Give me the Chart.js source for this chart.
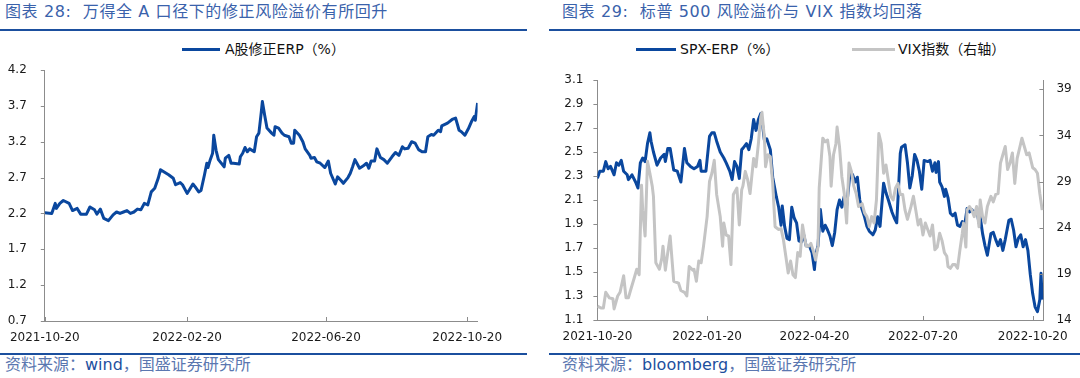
<!DOCTYPE html>
<html>
<head>
<meta charset="utf-8">
<script src="https://cdn.jsdelivr.net/npm/chart.js@4.4.1/dist/chart.umd.min.js"></script>
<style>
  body { margin: 0; width: 1080px; height: 378px; background: #fff; position: relative; overflow: hidden;
         font-family: "DejaVu Sans", "Noto Sans CJK SC", sans-serif; }
  .title { position: absolute; top: 4px; font-size: 16px; line-height: 16px; color: #3a62ab; white-space: nowrap; letter-spacing: 0.6px; }
  .rule { position: absolute; height: 2px; background: #1b4f9e; }
  .legend { position: absolute; top: 42px; font-size: 14px; line-height: 14px; color: #111; white-space: nowrap; }
  .swatch { position: absolute; top: 48px; height: 3px; }
  .source { position: absolute; top: 357px; font-size: 16px; line-height: 16px; color: #5b77b0; white-space: nowrap; }
  .source b { font-weight: normal; color: #1d4f9e; }
  canvas { position: absolute; top: 60px; }
</style>
</head>
<body>
<div class="title" style="left:5px">图表 28:&nbsp; 万得全 A 口径下的修正风险溢价有所回升</div>
<div class="rule" style="left:0;top:29px;width:527px"></div>
<div class="swatch" style="left:182px;width:38px;background:#0a479e"></div>
<div class="legend" style="left:225px">A股修正ERP（%）</div>

<div class="title" style="left:562px">图表 29:&nbsp; 标普 500 风险溢价与 VIX 指数均回落</div>
<div class="rule" style="left:549px;top:29px;width:531px"></div>
<div class="swatch" style="left:636px;width:40px;background:#0a479e"></div>
<div class="legend" style="left:680px">SPX-ERP（%）</div>
<div class="swatch" style="left:852px;width:43px;background:#c4c4c4"></div>
<div class="legend" style="left:898px">VIX指数（右轴）</div>

<canvas id="chartA" width="540" height="295" style="left:0"></canvas>
<canvas id="chartB" width="540" height="295" style="left:540px"></canvas>

<div class="rule" style="left:0;top:353px;width:527px"></div>
<div class="rule" style="left:549px;top:353px;width:531px"></div>
<div class="source" style="left:5px">资料来源：<b>wind</b>，国盛证券研究所</div>
<div class="source" style="left:562px">资料来源：<b>bloomberg</b>，国盛证券研究所</div>

<script>
// Left chart: days since 2021-10-20
const erpDays = [0, 6, 9, 10, 13, 16, 21, 24, 28, 31, 36, 39, 43, 45, 48, 51, 55, 59, 62, 65,
  68, 71, 74, 77, 80, 83, 86, 89, 92, 95, 98, 100, 107, 111, 113, 117, 119, 123, 125, 128,
  130, 133, 135, 138, 140, 141, 143, 145, 146, 148, 150, 155, 156, 159, 161, 163, 168, 169, 171, 173,
  175, 177, 181, 183, 185, 187, 188, 190, 192, 196, 198, 199, 202, 205, 207, 211, 213, 215, 216, 220,
  223, 225, 229, 230, 233, 235, 238, 242, 245, 247, 251, 253, 256, 258, 262, 264, 266, 268, 272, 275,
  278, 280, 282, 285, 287, 290, 293, 296, 300, 303, 306, 309, 311, 314, 317, 320, 323, 326, 329, 331,
  334, 336, 340, 342, 343, 348, 352, 355, 358, 360, 363, 366, 369, 371, 372, 374];
const erpValues = [2.21, 2.2, 2.34, 2.27, 2.34, 2.38, 2.34, 2.24, 2.27, 2.19, 2.19, 2.29, 2.25, 2.19, 2.26, 2.13, 2.1, 2.18, 2.22, 2.2,
  2.22, 2.24, 2.2, 2.22, 2.26, 2.25, 2.34, 2.32, 2.5, 2.55, 2.69, 2.81, 2.74, 2.69, 2.6, 2.63, 2.6, 2.48, 2.53, 2.61,
  2.57, 2.5, 2.52, 2.74, 2.9, 2.84, 2.95, 3.04, 3.29, 3.08, 2.95, 2.85, 2.97, 3.01, 2.9, 2.9, 2.89, 2.99, 3.04, 3.12,
  3.06, 3.1, 3.06, 3.27, 3.32, 3.6, 3.76, 3.57, 3.39, 3.32, 3.29, 3.41, 3.39, 3.32, 3.29, 3.27, 3.18, 3.18, 3.36, 3.29,
  3.2, 3.1, 3.01, 2.97, 2.98, 2.92, 2.9, 2.84, 2.93, 2.76, 2.61, 2.71, 2.66, 2.62, 2.7, 2.76, 2.85, 2.95, 2.83, 2.86,
  2.9, 2.83, 2.93, 2.93, 3.1, 2.98, 2.95, 2.9, 2.99, 3.05, 3.01, 3.13, 3.1, 3.11, 3.2, 3.18, 3.09, 3.06, 3.06, 3.27,
  3.3, 3.29, 3.36, 3.34, 3.42, 3.46, 3.51, 3.53, 3.36, 3.34, 3.29, 3.38, 3.49, 3.55, 3.5, 3.74];
const aTickDays = [0, 123, 243, 365];
const aTickLabels = ['2021-10-20', '2022-02-20', '2022-06-20', '2022-10-20'];
const aYTicks = [0.7, 1.2, 1.7, 2.2, 2.7, 3.2, 3.7, 4.2];

// Right chart: days since 2021-10-20
const spxDays = [0, 2, 5, 7, 9, 11, 14, 16, 18, 20, 22, 25, 26, 29, 32, 34, 36, 38, 40, 42,
  44, 45, 47, 50, 53, 56, 57, 59, 61, 64, 67, 70, 73, 75, 78, 81, 84, 86, 87, 91,
  94, 96, 98, 100, 103, 106, 108, 111, 113, 115, 117, 119, 121, 122, 125, 127, 129, 131, 133, 135,
  137, 138, 140, 142, 145, 147, 150, 152, 154, 155, 157, 159, 161, 163, 165, 167, 169, 171, 173, 175,
  178, 180, 182, 183, 185, 187, 189, 191, 193, 195, 197, 199, 201, 203, 205, 207, 209, 212, 214, 216,
  218, 220, 222, 224, 226, 228, 231, 233, 235, 237, 240, 242, 244, 247, 249, 251, 252, 254, 255, 258,
  260, 262, 264, 266, 268, 270, 272, 274, 277, 279, 281, 283, 284, 286, 287, 289, 291, 292, 294, 296,
  298, 300, 302, 304, 306, 308, 310, 312, 314, 316, 318, 320, 321, 323, 325, 327, 330, 332, 334, 336,
  338, 340, 342, 345, 347, 349, 351, 353, 355, 357, 359, 361, 363, 365, 367, 369, 371, 372, 373];
const spxValues = [2.28, 2.34, 2.34, 2.42, 2.36, 2.38, 2.31, 2.41, 2.39, 2.43, 2.34, 2.31, 2.27, 2.31, 2.25, 2.2, 2.41, 2.45, 2.42, 2.57,
  2.66, 2.59, 2.5, 2.39, 2.45, 2.48, 2.42, 2.53, 2.53, 2.35, 2.34, 2.25, 2.53, 2.41, 2.38, 2.36, 2.38, 2.43, 2.34, 2.34,
  2.63, 2.66, 2.66, 2.59, 2.5, 2.45, 2.41, 2.34, 2.27, 2.42, 2.38, 2.28, 2.52, 2.53, 2.57, 2.52, 2.61, 2.77, 2.68, 2.77,
  2.82, 2.77, 2.6, 2.61, 2.52, 2.29, 2.13, 2.04, 1.89, 2.05, 1.88, 1.78, 1.77, 2.04, 1.95, 1.91, 1.76, 1.75, 1.81, 1.72,
  1.71, 1.66, 1.52, 1.64, 1.72, 2.02, 1.84, 1.89, 1.85, 1.8, 1.72, 1.83, 2.02, 2.1, 2.04, 2.13, 2.05, 2.34, 2.31, 2.25,
  2.29, 2.1, 2.02, 1.96, 1.88, 1.84, 1.81, 1.85, 1.96, 1.88, 2.24, 2.16, 2.1, 2.0, 1.95, 1.91, 2.1, 2.49, 2.54, 2.56,
  2.41, 2.2, 2.3, 2.48, 2.43, 2.34, 2.19, 2.43, 2.42, 2.43, 2.34, 2.41, 2.33, 2.42, 2.25, 2.21, 2.13, 2.19, 2.12, 1.99,
  1.97, 1.99, 1.89, 1.88, 1.92, 1.89, 2.03, 2.0, 2.02, 1.99, 2.02, 1.91, 1.96, 1.82, 1.72, 1.64, 1.82, 1.83, 1.77, 1.72,
  1.77, 1.68, 1.77, 1.93, 1.94, 1.85, 1.71, 1.78, 1.81, 1.71, 1.77, 1.68, 1.48, 1.32, 1.21, 1.17, 1.27, 1.49, 1.27];
const vixDays = [0, 3, 5, 7, 10, 13, 14, 17, 19, 22, 24, 26, 28, 31, 33, 35, 37, 38, 40, 42,
  44, 46, 47, 49, 52, 54, 55, 57, 59, 61, 64, 68, 70, 73, 75, 77, 80, 81, 83, 85,
  87, 89, 92, 94, 96, 98, 100, 103, 105, 106, 108, 110, 112, 114, 117, 119, 121, 122, 124, 126,
  128, 131, 133, 135, 137, 138, 140, 141, 143, 145, 147, 149, 152, 154, 156, 158, 160, 162, 164, 166,
  168, 170, 172, 175, 177, 179, 181, 183, 185, 186, 189, 191, 193, 195, 196, 198, 200, 201, 203, 205,
  207, 209, 211, 213, 215, 217, 219, 222, 224, 226, 228, 230, 232, 234, 236, 238, 240, 242, 244, 246,
  248, 250, 252, 254, 256, 258, 260, 263, 265, 267, 269, 271, 273, 275, 277, 279, 281, 283, 285, 287,
  289, 291, 293, 294, 296, 298, 300, 302, 304, 306, 307, 309, 310, 312, 314, 316, 318, 320, 321, 323,
  325, 327, 330, 332, 334, 336, 338, 340, 342, 344, 346, 348, 350, 352, 354, 356, 358, 360, 362, 365,
  367, 369, 371, 373];
const vixValues = [15.5, 15.3, 15.3, 17.0, 16.4, 16.3, 15.2, 16.6, 17.0, 18.8, 16.4, 16.4, 17.3, 18.6, 19.5, 18.9, 28.6, 25.9, 23.1, 31.2,
  29.9, 28.5, 27.4, 20.2, 19.5, 20.7, 22.0, 19.4, 21.3, 23.1, 18.2, 18.0, 17.2, 17.0, 16.6, 19.8, 19.4, 19.5, 18.2, 20.4,
  20.2, 22.0, 25.2, 29.0, 29.9, 31.3, 27.6, 25.2, 22.0, 24.5, 23.2, 23.1, 20.0, 27.6, 28.3, 24.3, 28.1, 28.5, 30.1, 29.2,
  27.7, 31.5, 30.6, 33.1, 36.0, 36.5, 33.8, 30.6, 31.9, 31.7, 28.8, 24.1, 23.8, 23.9, 22.7, 20.9, 19.1, 20.4, 18.9, 18.6,
  21.3, 20.9, 24.3, 22.0, 22.0, 22.3, 21.5, 20.5, 22.0, 28.3, 33.7, 33.3, 33.5, 31.7, 28.5, 31.9, 33.1, 34.9, 32.8, 29.5,
  27.7, 24.5, 31.0, 30.1, 28.5, 27.7, 26.3, 26.6, 25.6, 25.2, 24.1, 25.2, 24.5, 27.0, 34.2, 33.1, 29.9, 30.8, 29.1, 27.4,
  27.0, 28.3, 28.8, 27.6, 27.6, 25.9, 24.9, 26.3, 27.4, 25.9, 24.3, 24.9, 23.2, 24.5, 23.8, 23.1, 24.3, 21.6, 21.9, 23.4,
  22.6, 21.3, 20.9, 19.8, 19.6, 20.0, 20.0, 19.6, 21.6, 23.4, 24.5, 21.9, 25.9, 26.3, 25.9, 25.2, 26.3, 24.1, 27.0, 25.2,
  24.5, 26.3, 27.4, 26.8, 27.6, 27.7, 31.0, 31.9, 32.8, 30.3, 31.0, 32.1, 28.8, 31.5, 32.6, 33.7, 32.8, 31.9, 32.1, 30.5,
  30.3, 29.9, 27.7, 25.9];
const bTickDays = [0, 92, 182, 273, 365];
const bTickLabels = ['2021-10-20', '2022-01-20', '2022-04-20', '2022-07-20', '2022-10-20'];
const bYTicks = [1.1, 1.3, 1.5, 1.7, 1.9, 2.1, 2.3, 2.5, 2.7, 2.9, 3.1];
const bY2Ticks = [14, 19, 24, 29, 34, 39];

const blue = '#0a479e';
const grey = '#c4c4c4';
const axisGrey = '#8c8c8c';
const tickFont = { family: 'DejaVu Sans', size: 12 };
const tickColor = '#1a1a1a';

// small tick marks: x ticks point up into the plot, y ticks point left
const tickMarks = {
  id: 'tickMarks',
  afterDraw(chart, args, opts) {
    const ctx = chart.ctx;
    ctx.save();
    ctx.strokeStyle = axisGrey;
    ctx.lineWidth = 1;
    Object.keys(chart.scales).forEach(id => {
      const dir = opts[id];
      if (!dir) return;
      const scale = chart.scales[id];
      scale.ticks.forEach(t => {
        const p = Math.round(scale.getPixelForValue(t.value)) + 0.5;
        ctx.beginPath();
        if (dir === 'up') {
          ctx.moveTo(p, scale.top);
          ctx.lineTo(p, scale.top - 4);
        } else if (dir === 'out') {
          ctx.moveTo(scale.right, p);
          ctx.lineTo(scale.right - 4, p);
        } else if (dir === 'in') {
          ctx.moveTo(scale.left, p);
          ctx.lineTo(scale.left - 4, p);
        }
        ctx.stroke();
      });
    });
    ctx.restore();
  }
};

function lineSet(days, values, color) {
  return {
    data: days.map((d, i) => ({ x: d, y: values[i] })),
    borderColor: color,
    borderWidth: 3,
    pointRadius: 0,
    tension: 0,
    borderJoinStyle: 'round'
  };
}

function xScale(tickDays, tickLabels, h) {
  return {
    type: 'linear', min: 0, max: 374,
    grid: { display: false, drawTicks: false },
    border: { color: axisGrey },
    ticks: { font: tickFont, color: tickColor, padding: 10, maxRotation: 0, autoSkip: false,
             callback: v => tickLabels[tickDays.indexOf(v)] },
    afterBuildTicks: s => { s.ticks = tickDays.map(v => ({ value: v })); },
    afterFit: s => { s.height = h; s.paddingLeft = 0; s.paddingRight = 0; }
  };
}

function yScale(pos, min, max, ticks, w, pad, fmt) {
  return {
    type: 'linear', position: pos, min: min, max: max,
    grid: { display: false, drawTicks: false },
    border: { color: axisGrey },
    ticks: { font: tickFont, color: tickColor, padding: pad, autoSkip: false, callback: fmt },
    afterBuildTicks: s => { s.ticks = ticks.map(v => ({ value: v })); },
    afterFit: s => { s.width = w; s.paddingTop = 0; s.paddingBottom = 0; }
  };
}

new Chart(document.getElementById('chartA'), {
  type: 'line',
  data: { datasets: [lineSet(erpDays, erpValues, blue)] },
  options: {
    responsive: false,
    animation: false,
    events: [],
    layout: { padding: { top: 10, right: 62.4, left: 0, bottom: 0 } },
    plugins: { legend: { display: false }, tooltip: { enabled: false }, tickMarks: { x: 'up', y: 'out' } },
    scales: {
      x: xScale(aTickDays, aTickLabels, 34),
      y: yScale('left', 0.7, 4.2, aYTicks, 44.8, 18, v => v.toFixed(1))
    }
  },
  plugins: [tickMarks]
});

const vixSet = lineSet(vixDays, vixValues, grey);
vixSet.yAxisID = 'y2';
const spxSet = lineSet(spxDays, spxValues, blue);

new Chart(document.getElementById('chartB'), {
  type: 'line',
  data: { datasets: [vixSet, spxSet] },
  options: {
    responsive: false,
    animation: false,
    events: [],
    layout: { padding: { top: 20, right: 0, left: 0, bottom: 0 } },
    plugins: { legend: { display: false }, tooltip: { enabled: false }, tickMarks: { x: 'up', y: 'out', y2: 'in' } },
    scales: {
      x: xScale(bTickDays, bTickLabels, 35),
      y: yScale('left', 1.1, 3.1, bYTicks, 57.4, 14, v => v.toFixed(1)),
      y2: yScale('right', 14, 40, bY2Ticks, 36.6, 13, v => String(v))
    }
  },
  plugins: [tickMarks]
});
</script>
</body>
</html>
